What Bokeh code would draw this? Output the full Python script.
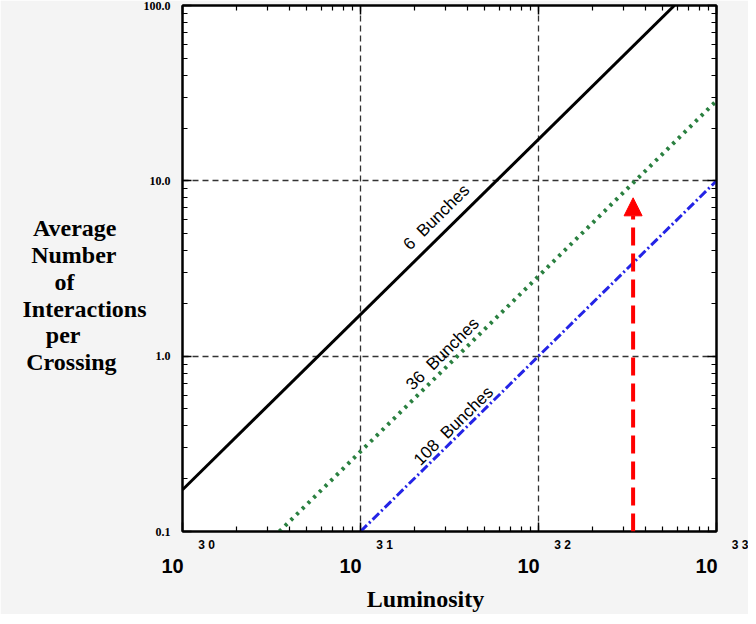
from bokeh.plotting import figure
from bokeh.models import FixedTicker, LogAxis, Label, Arrow, NormalHead, Range1d
from bokeh.embed import file_html
from bokeh.resources import INLINE

# ---- data ----
lum_ticks = [1e30, 1e31, 1e32, 1e33]
lum_tick_base = ["10", "10", "10", "10"]
lum_tick_exp = ["3 0", "3 1", "3 2", "3 3"]
mu_ticks = [0.1, 1.0, 10.0, 100.0]
mu_tick_labels = ["0.1", "1.0", "10.0", "100.0"]

lum_6 = [1e30, 5.8e32]
mu_6 = [0.173, 100.0]
lum_36 = [3.5e30, 1e33]
mu_36 = [0.1, 28.6]
lum_108 = [1e31, 1e33]
mu_108 = [0.1, 10.0]

series_names = ["6\u00a0 Bunches", "36\u00a0 Bunches", "108\u00a0 Bunches"]
label_lum = [2.67e31, 2.89e31, 3.33e31]
label_mu = [6.2, 1.03, 0.40]

arrow_lum = 3.4e32
arrow_mu = [0.1, 8.0]

x_title = "Luminosity"
y_title_lines = ["Average", "Number", "of", "Interactions", "per", "Crossing"]
y_title_pad = [5, 5, 12, 0, 11, 5]   # trailing no-break spaces to mimic the original line placement

NB = "\u00a0"
EM = "\u2003"

# ---- figure ----
p = figure(width=748, height=614, x_axis_type="log", y_axis_type="log",
           x_range=Range1d(1e30, 1e33), y_range=Range1d(0.1, 100),
           output_backend="svg", toolbar_location=None,
           min_border_left=182, min_border_right=32, min_border_top=5, min_border_bottom=82)
p.background_fill_color = "white"
p.border_fill_color = "#f4f4f4"
p.outline_line_color = "black"
p.outline_line_width = 2

minor_x = [k * 10.0 ** e for e in range(30, 33) for k in range(2, 10)]
minor_y = [k * 10.0 ** e for e in range(-1, 2) for k in range(2, 10)]
xt = FixedTicker(ticks=lum_ticks, minor_ticks=minor_x)
yt = FixedTicker(ticks=mu_ticks, minor_ticks=minor_y)

def style_axis(ax, ticker):
    ax.ticker = ticker
    ax.axis_line_width = 2
    ax.axis_line_color = "black"
    ax.major_tick_in = 9
    ax.major_tick_out = 0
    ax.minor_tick_in = 5
    ax.minor_tick_out = 0
    ax.major_tick_line_width = 1.5
    ax.minor_tick_line_width = 1.2
    ax.major_tick_line_color = "black"
    ax.minor_tick_line_color = "black"

def hide_labels(ax):
    ax.major_label_text_font_size = "1px"
    ax.major_label_text_alpha = 0
    ax.major_label_standoff = 0

# bottom axis: exponents (shifted right with leading em spaces)
xa = p.xaxis[0]
style_axis(xa, xt)
xa.major_label_overrides = {t: EM * 4 + e for t, e in zip(lum_ticks, lum_tick_exp)}
xa.major_label_text_font = "Liberation Sans"
xa.major_label_text_font_style = "bold"
xa.major_label_text_font_size = "12px"
xa.major_label_text_color = "black"
xa.major_label_standoff = 6

# second bottom axis: the "10" bases and the title
xb = LogAxis(ticker=FixedTicker(ticks=lum_ticks, minor_ticks=[]))
xb.axis_line_color = None
xb.major_tick_line_color = None
xb.minor_tick_line_color = None
xb.major_tick_in = 0
xb.major_tick_out = 0
xb.major_label_overrides = {t: b + EM for t, b in zip(lum_ticks, lum_tick_base)}
xb.major_label_text_font = "Liberation Sans"
xb.major_label_text_font_style = "bold"
xb.major_label_text_font_size = "20px"
xb.major_label_text_color = "black"
xb.major_label_standoff = 0
xb.axis_label = x_title + EM + EM
xb.axis_label_text_font = "Liberation Serif"
xb.axis_label_text_font_style = "bold"
xb.axis_label_text_font_size = "24px"
xb.axis_label_text_color = "black"
xb.axis_label_standoff = 6
p.add_layout(xb, "below")

ya = p.yaxis[0]
style_axis(ya, yt)
ya.major_label_overrides = {t: s for t, s in zip(mu_ticks, mu_tick_labels)}
ya.major_label_text_font = "Liberation Serif"
ya.major_label_text_font_style = "bold"
ya.major_label_text_font_size = "12px"
ya.major_label_text_color = "black"
ya.major_label_standoff = 12
ya.axis_label = "\n".join([NB, NB] + [ln + NB * k for ln, k in zip(y_title_lines, y_title_pad)])
ya.axis_label_text_font = "Liberation Serif"
ya.axis_label_text_font_style = "bold"
ya.axis_label_text_font_size = "24px"
ya.axis_label_text_color = "black"
ya.axis_label_text_line_height = 1.03
ya.axis_label_standoff = -6
if "axis_label_orientation" in ya.properties():
    ya.axis_label_orientation = "horizontal"

for loc, ticker in (("right", yt), ("above", xt)):
    ax = LogAxis()
    style_axis(ax, ticker)
    hide_labels(ax)
    p.add_layout(ax, loc)

p.xgrid.ticker = FixedTicker(ticks=lum_ticks[1:-1])
p.ygrid.ticker = FixedTicker(ticks=mu_ticks[1:-1])
for g in (p.xgrid[0], p.ygrid[0]):
    g.grid_line_color = "#333333"
    g.grid_line_dash = "6 4"
    g.grid_line_width = 1.3

# ---- lines ----
p.line(lum_6, mu_6, line_color="black", line_width=3)
p.line(lum_36, mu_36, line_color="#2a8040", line_width=4, line_dash="3 5")
p.line(lum_108, mu_108, line_color="#2424e6", line_width=3, line_dash="9 3 2 3")

for name, lx, ly in zip(series_names, label_lum, label_mu):
    p.add_layout(Label(x=lx, y=ly, text=name, angle=0.78, text_align="center",
                       text_baseline="middle", text_font="Liberation Sans",
                       text_font_size="17px", text_color="black"))

p.add_layout(Arrow(x_start=arrow_lum, y_start=arrow_mu[0], x_end=arrow_lum, y_end=arrow_mu[1],
                   line_color="red", line_width=4, line_dash="18 8",
                   end=NormalHead(size=18, fill_color="red", line_color="red")))

open("out.html", "w").write(file_html(p, INLINE))
